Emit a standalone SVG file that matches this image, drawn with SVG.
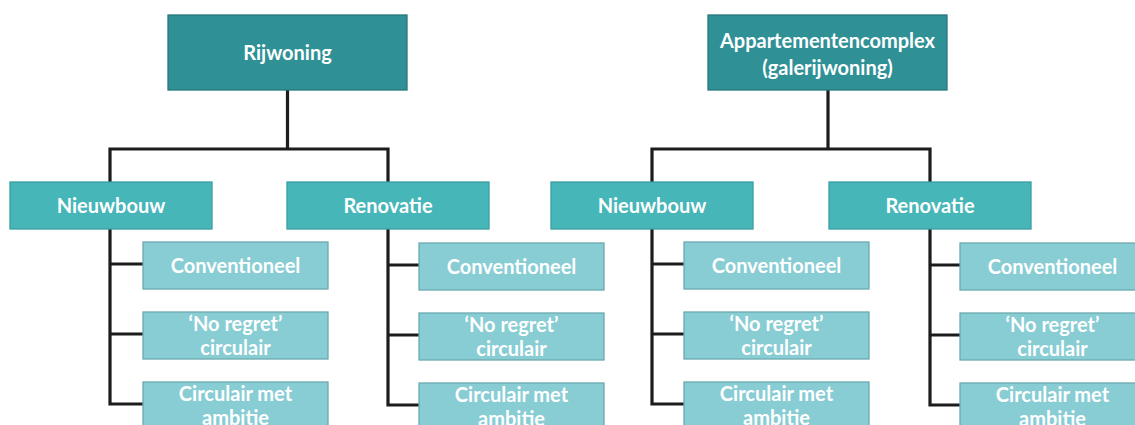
<svg xmlns="http://www.w3.org/2000/svg" width="1135" height="425" viewBox="0 0 1135 425">
<style>
.top{fill:#2F9196;stroke:#26797D;stroke-width:1.3}
.mid{fill:#46B6B9;stroke:#3A9EA2;stroke-width:1.3}
.leaf{fill:#88CDD4;stroke:#6AAAB0;stroke-width:1.3}
text{font-family:Lato,"Open Sans","Liberation Sans",sans-serif;font-weight:bold;fill:#fff;text-anchor:middle;font-size:20px}
.c path{fill:none;stroke:#1c1c1c;stroke-width:3.2;stroke-linejoin:miter}
</style>
<rect width="1135" height="425" fill="#fff"/>
<g class="c" id="connectors">
<path d="M287.5 90V149M110 229V149H388V229M110 229V404H143M110 264H143M110 334H143M388 229V405H419M388 265H419M388 335H419"/>
<path d="M828 90V149M652 229V149H930V229M652 229V404H684M652 264H684M652 334H684M930 229V405H960M930 265H960M930 335H960"/>
</g>
<g id="rijwoning"><rect class="top" x="168" y="15" width="239" height="75"/><text x="287.5" y="60">Rijwoning</text></g>
<g id="r-nieuwbouw"><rect class="mid" x="10" y="182" width="202" height="47"/><text x="111" y="213">Nieuwbouw</text></g>
<g id="r-renovatie"><rect class="mid" x="287" y="182" width="202" height="47"/><text x="388" y="213">Renovatie</text></g>
<g id="rn-conv"><rect class="leaf" x="143" y="242" width="185" height="47"/><text x="235.5" y="273">Conventioneel</text></g>
<g id="rn-nr"><rect class="leaf" x="143" y="312" width="185" height="47"/><text x="235.5" y="331">‘No regret’</text><text x="235.5" y="355">circulair</text></g>
<g id="rn-amb"><rect class="leaf" x="143" y="382" width="185" height="47"/><text x="235.5" y="401">Circulair met</text><text x="235.5" y="425">ambitie</text></g>
<g id="rr-conv"><rect class="leaf" x="419" y="243" width="185" height="47"/><text x="511.5" y="274">Conventioneel</text></g>
<g id="rr-nr"><rect class="leaf" x="419" y="313" width="185" height="47"/><text x="511.5" y="332">‘No regret’</text><text x="511.5" y="356">circulair</text></g>
<g id="rr-amb"><rect class="leaf" x="419" y="383" width="185" height="47"/><text x="511.5" y="402">Circulair met</text><text x="511.5" y="426">ambitie</text></g>
<g id="appartement"><rect class="top" x="708" y="15" width="239" height="75"/><text x="827.5" y="48">Appartementencomplex</text><text x="827.5" y="75">(galerijwoning)</text></g>
<g id="a-nieuwbouw"><rect class="mid" x="551" y="182" width="202" height="47"/><text x="652" y="213">Nieuwbouw</text></g>
<g id="a-renovatie"><rect class="mid" x="829" y="182" width="202" height="47"/><text x="930" y="213">Renovatie</text></g>
<g id="an-conv"><rect class="leaf" x="684" y="242" width="185" height="47"/><text x="776.5" y="273">Conventioneel</text></g>
<g id="an-nr"><rect class="leaf" x="684" y="312" width="185" height="47"/><text x="776.5" y="331">‘No regret’</text><text x="776.5" y="355">circulair</text></g>
<g id="an-amb"><rect class="leaf" x="684" y="382" width="185" height="47"/><text x="776.5" y="401">Circulair met</text><text x="776.5" y="425">ambitie</text></g>
<g id="ar-conv"><rect class="leaf" x="960" y="243" width="185" height="47"/><text x="1052.5" y="274">Conventioneel</text></g>
<g id="ar-nr"><rect class="leaf" x="960" y="313" width="185" height="47"/><text x="1052.5" y="332">‘No regret’</text><text x="1052.5" y="356">circulair</text></g>
<g id="ar-amb"><rect class="leaf" x="960" y="383" width="185" height="47"/><text x="1052.5" y="402">Circulair met</text><text x="1052.5" y="426">ambitie</text></g>
</svg>
